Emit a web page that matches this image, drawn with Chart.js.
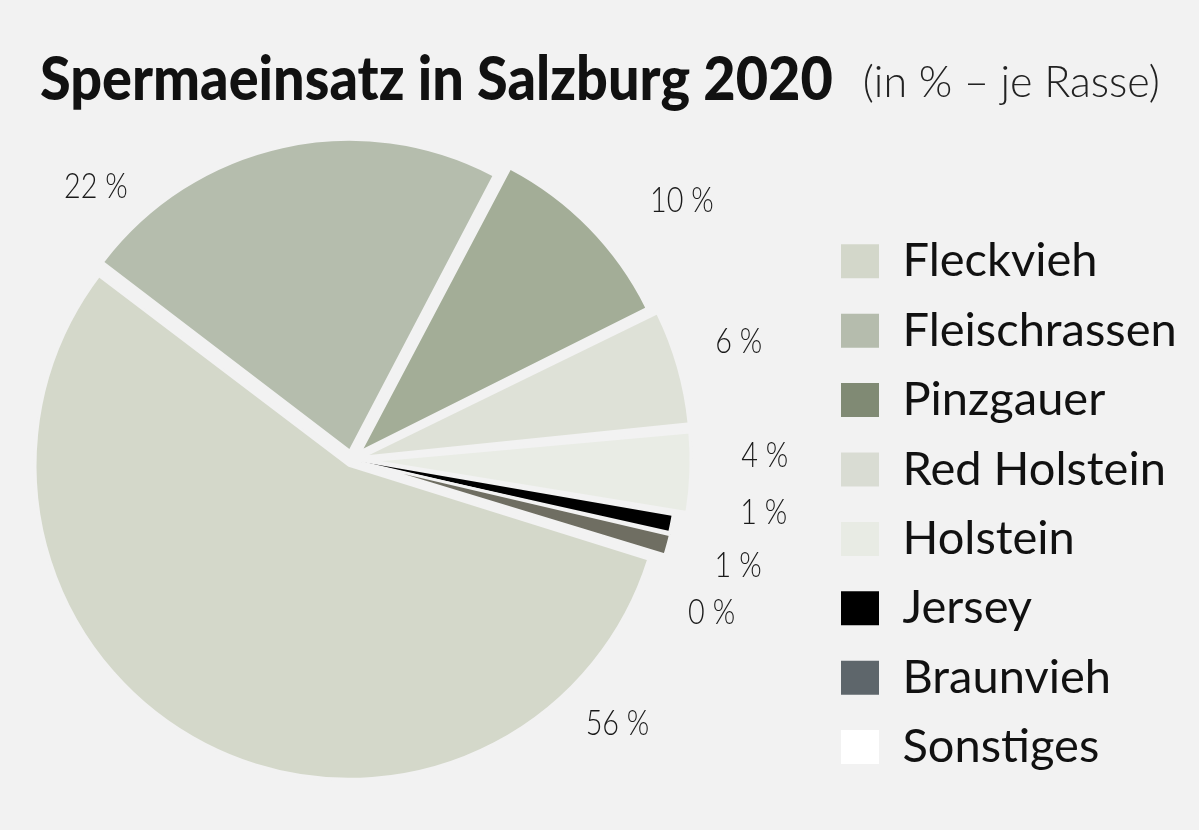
<!DOCTYPE html>
<html lang="de">
<head>
<meta charset="utf-8">
<title>Spermaeinsatz in Salzburg 2020</title>
<script src="https://cdn.jsdelivr.net/npm/chart.js@4.4.1/dist/chart.umd.min.js"></script>
<style>
	html, body { margin: 0; padding: 0; background: #f2f2f2; overflow: hidden; }
	canvas { display: block; }
</style>
</head>
<body>
<canvas id="rassen-chart" height="830"></canvas>
<script>
// Data
const breeds = ['Fleckvieh', 'Fleischrassen', 'Pinzgauer', 'Red Holstein', 'Holstein', 'Jersey', 'Braunvieh', 'Sonstiges'];
const shares = [55.6, 22.3, 10.0, 5.8, 4.2, 0.9, 1.2, 0];
const sliceColors = ['#d4d8ca', '#b5bdad', '#a3ad97', '#dee1d7', '#e9ece5', '#000000', '#6f6e62', '#ffffff'];
const legendColors = ['#d3d7ca', '#b5bcad', '#808a74', '#d9dcd3', '#e8ebe4', '#000000', '#5e666b', '#ffffff'];

const mainTitle = 'Spermaeinsatz in Salzburg 2020';
const subTitle = '(in % – je Rasse)';

// Legend sizing
const legendFontSize = 47;
const legendPad = 22.4;
const boxW = 38;
const boxH = 34;
const legendFont = legendFontSize + 'px Lato';

// legend boxes start at page x=841, pie centre at page x=352.
// the chart area can't start left of the canvas, so the canvas is
// made wider and pulled left by `shift` px
const measure = document.createElement('canvas').getContext('2d');
measure.font = legendFont;
const widest = Math.max(...breeds.map((b) => measure.measureText(b).width));
const legendLeft = 841 - legendPad;
const legendWidth = legendPad + boxW + legendFontSize / 2 + widest + 10;
const shift = Math.round(legendLeft - 2 * 352);
const padRight = 1199 - legendLeft - legendWidth;

const ctx = document.getElementById('rassen-chart');
ctx.width = 1199 + shift;
ctx.style.marginLeft = -shift + 'px';

// Title
const headingPlugin = {
	id: 'heading',
	afterDraw(chart) {
		const c = chart.ctx;
		c.save();
		c.fillStyle = '#111';
		c.textBaseline = 'alphabetic';
		c.font = '900 60px Lato';
		const squeeze = 0.93;
		const mainW = c.measureText(mainTitle).width * squeeze;
		c.save();
		c.translate(shift + 40, 100);
		c.scale(squeeze, 1);
		c.fillText(mainTitle, 0, 0);
		c.restore();
		c.font = '300 43px Lato';
		c.fillStyle = '#222';
		c.fillText(subTitle, shift + 40 + mainW + 30, 97);
		c.restore();
	},
};

// Percent labels round the pie
const labelPlugin = {
	id: 'sliceLabels',
	afterDatasetsDraw(chart, args, opts) {
		const c = chart.ctx;
		const arcs = chart.getDatasetMeta(0).data;
		c.save();
		c.font = opts.font;
		c.fillStyle = opts.color;
		c.textAlign = 'center';
		c.textBaseline = 'alphabetic';
		arcs.forEach((arc, i) => {
			const p = arc.getProps(['x', 'y', 'startAngle', 'endAngle', 'outerRadius'], true);
			const a = (p.startAngle + p.endAngle) / 2 + (opts.nudge[i] * Math.PI) / 180;
			const r = p.outerRadius + opts.gap[i];
			c.save();
			c.translate(p.x + Math.cos(a) * r, p.y + Math.sin(a) * r + opts.capShift);
			c.scale(opts.squeeze, 1);
			c.fillText(Math.round(shares[i]) + ' %', 0, 0);
			c.restore();
		});
		c.restore();
	},
};

new Chart(ctx, {
	type: 'pie',
	data: {
		labels: breeds,
		datasets: [
			{
				data: shares,
				backgroundColor: sliceColors,
				borderColor: '#f2f2f2',
				borderWidth: [3, 0, 0, 0, 3, 0, 3, 0],
				offset: [24, 45, 66, 73, 72, 34, 40, 0],
				radius: 308,
				rotation: 107.2,
			},
		],
	},
	plugins: [headingPlugin, labelPlugin],
	options: {
		responsive: false,
		animation: false,
		events: [],
		layout: {
			padding: { top: 127, bottom: 37, left: 0, right: padRight },
		},
		plugins: {
			tooltip: { enabled: false },
			legend: {
				position: 'right',
				align: 'end',
				labels: {
					boxWidth: boxW,
					boxHeight: boxH,
					padding: legendPad,
					color: '#111',
					font: { family: 'Lato', size: legendFontSize },
					generateLabels: () =>
						breeds.map((name, i) => ({
							text: name,
							fillStyle: legendColors[i],
							strokeStyle: legendColors[i],
							fontColor: '#111',
							lineWidth: 0,
							hidden: false,
							index: i,
						})),
				},
			},
			sliceLabels: {
				font: '300 36px Lato',
				color: '#1a1a1a',
				squeeze: 0.8,
				capShift: 13,
				nudge: [-72.7, -30.4, 6.0, -1.3, -2.9, -4.2, 0, 5.5],
				gap: [65, 68, 113, 97, 105, 107, 92, 82],
			},
		},
	},
});
</script>
</body>
</html>
